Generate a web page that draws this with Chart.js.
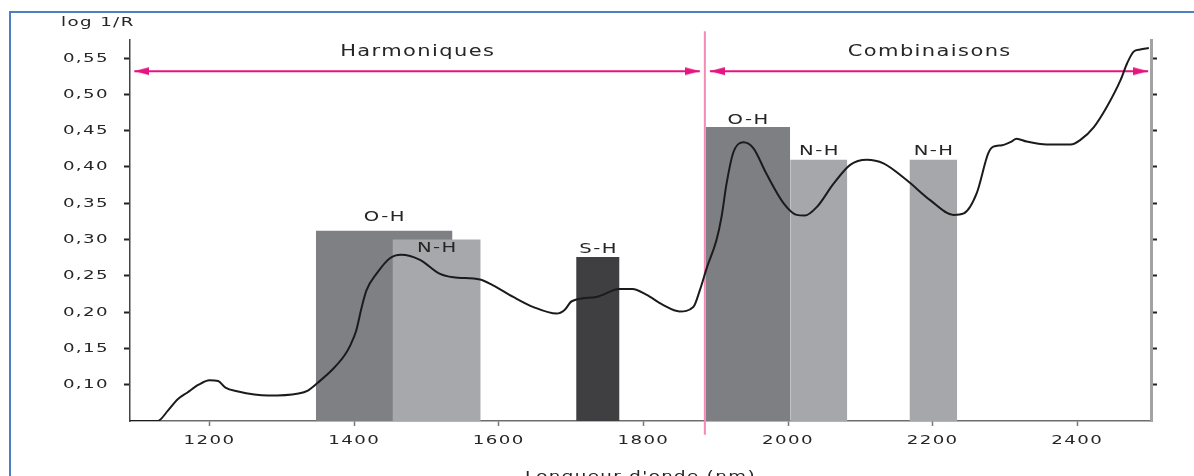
<!DOCTYPE html>
<html lang="fr">
<head>
<meta charset="utf-8">
<title>log 1/R - Longueur d'onde (nm)</title>
<script src="https://cdn.jsdelivr.net/npm/chart.js@4"></script>
<style>
  html, body { margin: 0; padding: 0; background: #fff; }
  #wrap { position: relative; width: 1194px; height: 476px; overflow: hidden; }
  #frame { position: absolute; left: 9px; top: 11px; right: -4px; bottom: -10px;
           border-left: 2px solid #4f80bd; border-top: 2px solid #4f80bd; }
  #chart { position: absolute; left: 0; top: 0; }
</style>
</head>
<body>
<div id="wrap">
  <div id="frame"></div>
  <canvas id="chart" width="1194" height="476"></canvas>
</div>
<script>
// spectre
var wavelengths = [1090, 1128, 1143, 1156, 1169, 1185, 1200, 1212, 1222, 1238, 1281, 1323, 1336, 1350,
  1371, 1387, 1395, 1403, 1410, 1417, 1431, 1449, 1465, 1491, 1518, 1537, 1574, 1592, 1620, 1648,
  1680, 1691, 1701, 1735, 1767, 1785, 1804, 1827, 1850, 1869, 1878, 1888, 1901, 1908, 1915, 1924,
  1938, 1952, 1970, 1994, 2012, 2023, 2040, 2063, 2086, 2109, 2132, 2164, 2197, 2229, 2243, 2261,
  2277, 2284, 2296, 2309, 2316, 2330, 2358, 2391, 2404, 2423, 2441, 2460, 2469, 2478, 2487, 2499];
var absorbance = [0.050, 0.050, 0.065, 0.080, 0.089, 0.100, 0.106, 0.105, 0.096, 0.091, 0.085, 0.088, 0.092, 0.103,
  0.122, 0.141, 0.155, 0.175, 0.205, 0.230, 0.253, 0.274, 0.279, 0.272, 0.253, 0.248, 0.245, 0.237, 0.221, 0.207,
  0.198, 0.203, 0.215, 0.221, 0.232, 0.232, 0.224, 0.210, 0.201, 0.207, 0.230, 0.262, 0.299, 0.331, 0.377, 0.419,
  0.434, 0.426, 0.391, 0.350, 0.334, 0.333, 0.345, 0.377, 0.403, 0.410, 0.405, 0.382, 0.354, 0.334, 0.336, 0.364,
  0.419, 0.428, 0.430, 0.435, 0.439, 0.435, 0.431, 0.431, 0.437, 0.455, 0.483, 0.520, 0.543, 0.559, 0.562, 0.564];

// bandes d'absorption
var bandNames = ['O-H', 'N-H', 'S-H', 'O-H', 'N-H', 'N-H'];
var bandStart = [1347, 1453, 1707, 1886, 2003, 2168];
var bandEnd = [1536, 1575, 1767, 2003, 2082, 2234];
var bandTop = [0.312, 0.300, 0.276, 0.455, 0.410, 0.410];

// zones harmoniques / combinaisons
var zoneNames = ['Harmoniques', 'Combinaisons'];
var zoneStart = [1096, 1892];
var zoneEnd = [1878, 2498];
var zoneLevel = 0.532;
var dividerAt = 1885;
var dividerSpan = [0.031, 0.587];

var xTicks = [1200, 1400, 1600, 1800, 2000, 2200, 2400];
var yTicks = [0.10, 0.15, 0.20, 0.25, 0.30, 0.35, 0.40, 0.45, 0.50, 0.55];

var SP = 1;     // letter spacing
var SX = 1.4;   // wide lettering of the original
var FONT = '"DejaVu Sans", sans-serif';
var TEXT = '#262626';
var bandColors = ['#7f8084', '#a7a8ab', '#3f3f41', '#7e7f83', '#a6a7aa', '#a6a7aa'];
var bandLabelDy = [-14, 9, -8, -7, -8, -8];
var pink = '#e6147f';

function makeArrowHead(color) {
  var c = document.createElement('canvas');
  c.width = 30; c.height = 10;
  var g = c.getContext('2d');
  g.fillStyle = color;
  g.beginPath();
  g.moveTo(0, 1); g.lineTo(15, 5); g.lineTo(0, 9);
  g.closePath();
  g.fill();
  return c;
}
var arrowHead = makeArrowHead(pink);

// stretch every text horizontally around its anchor
var canvas = document.getElementById('chart');
var ctx2d = canvas.getContext('2d');
var baseFill = CanvasRenderingContext2D.prototype.fillText;
ctx2d.fillText = function (text, x, y, maxWidth) {
  this.save();
  this.translate(x, y);
  this.scale(SX, 1);
  if (maxWidth === undefined) baseFill.call(this, text, 0, 0);
  else baseFill.call(this, text, 0, 0, maxWidth / SX);
  this.restore();
};

var datasets = [];
datasets.push({
  data: wavelengths.map(function (w, i) { return { x: w, y: absorbance[i] }; }),
  borderColor: '#1b1b1b', borderWidth: 2, pointRadius: 0,
  cubicInterpolationMode: 'monotone', order: 0
});
datasets.push({
  data: [{ x: dividerAt, y: dividerSpan[0] }, { x: dividerAt, y: dividerSpan[1] }],
  borderColor: '#f48ab6', borderWidth: 2, pointRadius: 0, clip: false, order: 1
});
zoneNames.forEach(function (n, i) {
  datasets.push({
    data: [{ x: zoneStart[i], y: zoneLevel }, { x: zoneEnd[i], y: zoneLevel }],
    borderColor: pink, borderWidth: 2,
    pointStyle: arrowHead, pointRadius: 5, pointRotation: [180, 0], order: 2
  });
});
bandNames.forEach(function (n, i) {
  datasets.push({
    data: [{ x: bandStart[i], y: bandTop[i] }, { x: bandEnd[i], y: bandTop[i] }],
    borderWidth: 0, borderColor: 'rgba(0,0,0,0)', pointRadius: 0,
    backgroundColor: bandColors[i], fill: 'start', order: 20 - i
  });
});

var spacingPlugin = {
  id: 'spacing',
  beforeUpdate: function (chart) { chart.ctx.letterSpacing = SP + 'px'; },
  beforeDraw: function (chart) { chart.ctx.letterSpacing = SP + 'px'; }
};

var labelPlugin = {
  id: 'labels',
  afterDatasetsDraw: function (chart) {
    var ctx = chart.ctx, xs = chart.scales.x, ys = chart.scales.y;
    ctx.save();
    ctx.fillStyle = TEXT;
    ctx.textAlign = 'center';
    ctx.textBaseline = 'middle';
    ctx.font = '14px ' + FONT;
    bandNames.forEach(function (name, i) {
      var px = xs.getPixelForValue((bandStart[i] + bandEnd[i]) / 2) + SP * SX / 2;
      ctx.fillText(name, px, ys.getPixelForValue(bandTop[i]) + bandLabelDy[i]);
    });
    ctx.font = '15px ' + FONT;
    zoneNames.forEach(function (name, i) {
      var px = xs.getPixelForValue((zoneStart[i] + zoneEnd[i]) / 2) + SP * SX / 2;
      ctx.fillText(name, px, ys.getPixelForValue(zoneLevel) - 19);
    });
    ctx.textAlign = 'left';
    ctx.font = '13px ' + FONT;
    ctx.fillText('log 1/R', 61, 23);
    ctx.restore();
  }
};

var tickFont = { family: FONT, size: 13 };

new Chart(canvas, {
  type: 'line',
  data: { datasets: datasets },
  options: {
    responsive: false,
    animation: false,
    layout: { padding: { left: 10, top: 40, right: 43, bottom: 0 } },
    plugins: { legend: { display: false }, tooltip: { enabled: false } },
    scales: {
      x: {
        type: 'linear', min: 1090, max: 2502,
        afterBuildTicks: function (s) { s.ticks = xTicks.map(function (v) { return { value: v }; }); },
        afterFit: function (s) { s.height = 55; },
        ticks: { font: tickFont, color: TEXT, padding: 7, maxRotation: 0, autoSkip: false,
                 callback: function (v) { return String(v); } },
        grid: { drawOnChartArea: false, tickLength: 5, tickColor: '#777', tickWidth: 1.5 },
        border: { color: '#6d6d6d', width: 1.5 },
        title: { display: true, text: "Longueur d'onde (nm)", color: TEXT,
                 font: { family: FONT, size: 13 }, padding: { top: 0, bottom: -8 } }
      },
      y: {
        type: 'linear', min: 0.05, max: 0.575,
        afterBuildTicks: function (s) { s.ticks = yTicks.map(function (v) { return { value: v }; }); },
        afterFit: function (s) { s.width = 120; },
        ticks: { font: tickFont, color: TEXT, padding: 15,
                 callback: function (v) { return v.toFixed(2).replace('.', ','); } },
        grid: { drawOnChartArea: false, tickLength: 6, tickColor: '#222', tickWidth: 2 },
        border: { color: '#444', width: 1.5 }
      },
      yR: {
        type: 'linear', position: 'right', min: 0.05, max: 0.575,
        afterBuildTicks: function (s) { s.ticks = yTicks.map(function (v) { return { value: v }; }); },
        afterFit: function (s) { s.width = 0; },
        ticks: { display: false },
        grid: { drawOnChartArea: false, tickLength: 6, tickColor: '#222', tickWidth: 2 },
        border: { color: '#a3a3a3', width: 3 }
      }
    }
  },
  plugins: [spacingPlugin, labelPlugin]
});
</script>
</body>
</html>
